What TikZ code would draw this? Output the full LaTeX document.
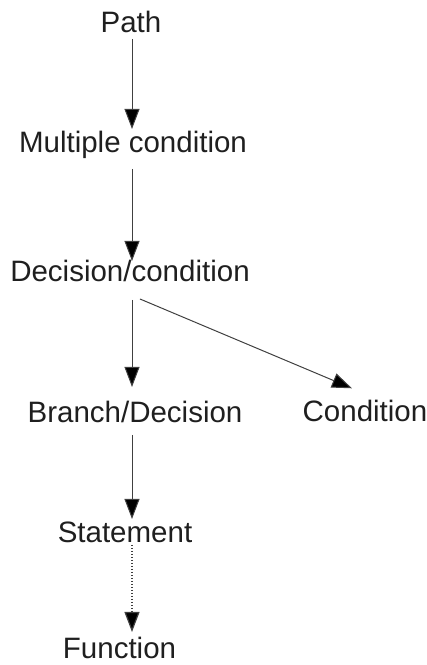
\documentclass[tikz,border=0pt]{standalone}
\usepackage{fontspec}
\setmainfont{Liberation Sans}
\usepackage{tikz}
\usetikzlibrary{arrows.meta}

\begin{document}
\begin{tikzpicture}[x=1pt, y=1pt,
        term/.style={anchor=base, inner sep=0pt, outer sep=0pt, text height=24pt, text depth=6pt, text=black!88, font=\fontsize{29.5}{35}\selectfont},
        link/.style={draw=black!75, line width=1pt, -{Triangle[width=15pt, length=20pt, fill=black]}},
        weak/.style={link, draw=black!75, line width=1.2pt, dash pattern=on 1.4pt off 1.6pt}]
        \useasboundingbox (0,0) rectangle (427,665);

        % Terms
        \node[term] (path) at (131,632) {Path};
        \node[term] (multi) at (133,512) {Multiple condition};
        \node[term] (decision) at (130,383) {Decision/condition};
        \node[term] (branch) at (135,242) {Branch/Decision};
        \node[term] (cond) at (365,243) {Condition};
        \node[term] (stmt) at (125,122) {Statement};
        \node[term] (func) at (119.5,6) {Function};

        % Spine for the vertical arrows
        \coordinate (spine) at (132,0);

        % Arrows
        \draw[link] (path.south -| spine) -- (multi.north -| spine);
        \draw[link, shorten <=10pt, shorten >=-3pt] (multi.south -| spine) -- (decision.north -| spine);
        \draw[link, shorten <=12pt, shorten >=12pt] (decision.south -| spine) -- (branch.north -| spine);
        \draw[link, shorten >=25pt] ([shift={(10pt,-11pt)}]decision.south) -- ([xshift=10pt]cond.north);
        \draw[link, shorten <=6pt] (branch.south -| spine) -- (stmt.north -| spine);
        \draw[weak, shorten <=-4pt, shorten >=3pt] (stmt.south -| spine) -- (func.north -| spine);
    \end{tikzpicture}
\end{document}
